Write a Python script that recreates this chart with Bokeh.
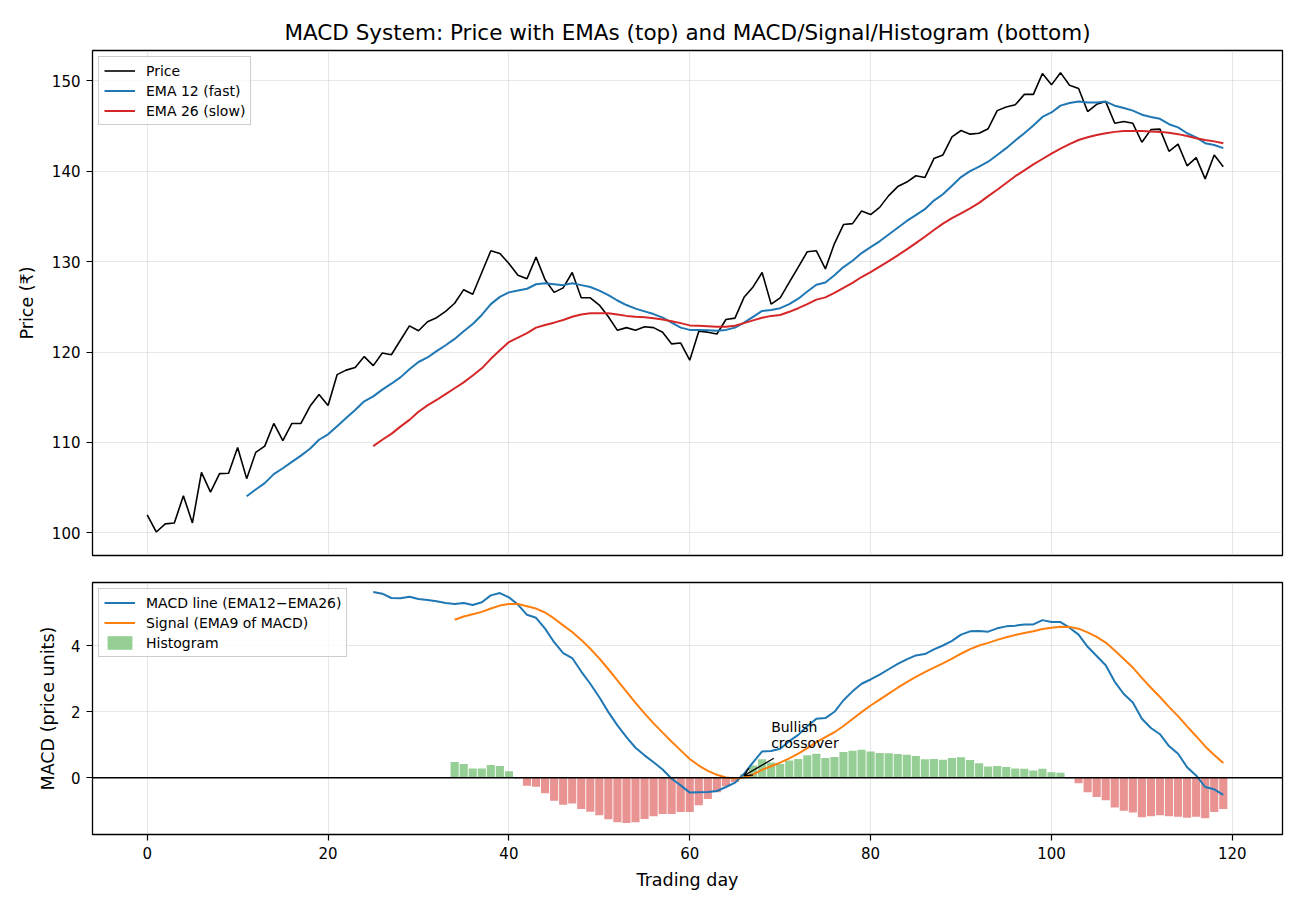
from bokeh.plotting import figure
from bokeh.layouts import column
from bokeh.models import (Range1d, FixedTicker, Span, Label, Arrow, OpenHead,
                          Legend, LegendItem)
from bokeh.embed import file_html
from bokeh.resources import INLINE

FONT = "DejaVu Sans"

# ---------------- data ----------------
days = list(range(120))

price = [102.0, 100.1, 101.0, 101.1, 104.1, 101.1, 106.7, 104.5, 106.55, 106.6,
         109.45, 106.0, 108.9, 109.6, 112.1, 110.2, 112.1, 112.1, 114.0, 115.3,
         114.1, 117.5, 118.0, 118.3, 119.5, 118.5, 119.9, 119.7, 121.3, 122.9,
         122.35, 123.35, 123.8, 124.5, 125.4, 126.9, 126.4, 128.8, 131.2, 130.9,
         129.8, 128.5, 128.1, 130.5, 128.0, 126.6, 127.1, 128.8, 126.0, 126.0,
         125.2, 123.9, 122.4, 122.7, 122.4, 122.8, 122.7, 122.2, 120.9, 121.0,
         119.1, 122.3, 122.2, 122.0, 123.6, 123.75, 126.05, 127.2, 128.8, 125.3,
         126.0, 127.7, 129.4, 131.1, 131.2, 129.2, 132.0, 134.1, 134.2, 135.6,
         135.2, 136.0, 137.3, 138.3, 138.8, 139.5, 139.3, 141.4, 141.8, 143.8,
         144.5, 144.1, 144.2, 144.7, 146.7, 147.1, 147.35, 148.5, 148.5, 150.8,
         149.55, 150.9, 149.5, 149.15, 146.6, 147.4, 147.7, 145.3, 145.5, 145.3,
         143.2, 144.6, 144.65, 142.2, 143.0, 140.6, 141.5, 139.15, 141.8, 140.5]

ema12_start = 11
ema12 = [104.05, 104.8, 105.5, 106.5, 107.15, 107.85, 108.55, 109.3, 110.3,
         110.9, 111.8, 112.7, 113.6, 114.55, 115.1, 115.85, 116.5, 117.2, 118.1,
         118.9, 119.4, 120.1, 120.75, 121.45, 122.3, 123.1, 124.1, 125.3, 126.1,
         126.6, 126.8, 127.0, 127.5, 127.6, 127.5, 127.4, 127.6, 127.4, 127.2,
         126.8, 126.3, 125.7, 125.2, 124.8, 124.5, 124.2, 123.8, 123.25, 122.7,
         122.45, 122.45, 122.4, 122.35, 122.45, 122.7, 123.25, 123.9, 124.55,
         124.65, 124.85, 125.3, 125.9, 126.7, 127.45, 127.7, 128.5, 129.4, 130.1,
         130.95, 131.6, 132.25, 133.0, 133.75, 134.5, 135.15, 135.8, 136.75,
         137.45, 138.4, 139.35, 140.0, 140.5, 141.05, 141.8, 142.55, 143.4, 144.2,
         145.05, 146.0, 146.5, 147.25, 147.55, 147.7, 147.6, 147.6, 147.7, 147.25,
         147.0, 146.7, 146.25, 146.0, 145.8, 145.2, 144.85, 144.2, 143.75, 143.1,
         142.9, 142.55]

ema26_start = 25
ema26 = [109.6, 110.3, 110.95, 111.75, 112.5, 113.4, 114.1, 114.7, 115.35,
         116.0, 116.65, 117.4, 118.2, 119.25, 120.2, 121.1, 121.6, 122.1, 122.7,
         123.0, 123.25, 123.55, 123.9, 124.15, 124.3, 124.3, 124.3, 124.15, 124.0,
         123.9, 123.85, 123.75, 123.6, 123.4, 123.2, 122.95, 122.9, 122.85, 122.8,
         122.8, 122.9, 123.2, 123.5, 123.8, 124.0, 124.1, 124.45, 124.85, 125.3,
         125.8, 126.05, 126.55, 127.1, 127.65, 128.3, 128.85, 129.45, 130.05,
         130.7, 131.35, 132.05, 132.75, 133.5, 134.2, 134.8, 135.35, 135.9, 136.5,
         137.25, 137.95, 138.7, 139.45, 140.1, 140.75, 141.35, 141.95, 142.5,
         143.0, 143.45, 143.75, 144.0, 144.2, 144.35, 144.45, 144.45, 144.45,
         144.4, 144.35, 144.25, 144.1, 143.9, 143.65, 143.45, 143.3, 143.1]

macd_start = 25
macd = [5.63, 5.58, 5.45, 5.44, 5.49, 5.42, 5.39, 5.35, 5.30, 5.27, 5.30, 5.24,
        5.32, 5.53, 5.60, 5.47, 5.25, 4.94, 4.85, 4.52, 4.11, 3.78, 3.63, 3.22,
        2.85, 2.44, 1.99, 1.59, 1.23, 0.91, 0.68, 0.47, 0.25, -0.03, -0.23,
        -0.45, -0.44, -0.43, -0.40, -0.28, -0.15, 0.12, 0.47, 0.80, 0.81, 0.88,
        1.11, 1.30, 1.56, 1.79, 1.81, 2.00, 2.35, 2.62, 2.85, 2.98, 3.13, 3.29,
        3.45, 3.59, 3.71, 3.75, 3.89, 4.01, 4.15, 4.34, 4.44, 4.45, 4.43, 4.53,
        4.59, 4.61, 4.65, 4.65, 4.78, 4.72, 4.72, 4.55, 4.34, 3.97, 3.69, 3.41,
        2.91, 2.54, 2.28, 1.79, 1.51, 1.32, 0.96, 0.73, 0.32, 0.07, -0.28, -0.35,
        -0.52]

signal_start = 34
signal = [4.79, 4.89, 4.96, 5.03, 5.13, 5.22, 5.27, 5.27, 5.20, 5.13, 5.01,
          4.83, 4.62, 4.42, 4.18, 3.91, 3.62, 3.29, 2.95, 2.61, 2.27, 1.95, 1.65,
          1.37, 1.09, 0.83, 0.57, 0.37, 0.21, 0.09, 0.01, -0.02, 0.01, 0.10, 0.24,
          0.35, 0.46, 0.59, 0.73, 0.90, 1.08, 1.23, 1.38, 1.57, 1.78, 1.99, 2.19,
          2.37, 2.55, 2.73, 2.90, 3.06, 3.20, 3.34, 3.47, 3.61, 3.76, 3.90, 4.01,
          4.09, 4.18, 4.26, 4.33, 4.39, 4.44, 4.51, 4.55, 4.58, 4.57, 4.52, 4.41,
          4.27, 4.10, 3.86, 3.60, 3.34, 3.03, 2.73, 2.45, 2.15, 1.87, 1.56, 1.26,
          0.95, 0.69, 0.45]

hist_start = 34
hist = [0.48, 0.42, 0.28, 0.28, 0.39, 0.36, 0.20, -0.02, -0.24, -0.27, -0.47,
        -0.70, -0.82, -0.78, -0.95, -1.03, -1.14, -1.26, -1.35, -1.37, -1.35,
        -1.25, -1.17, -1.10, -1.10, -1.04, -1.04, -0.83, -0.64, -0.44, -0.26,
        -0.13, 0.11, 0.37, 0.56, 0.46, 0.42, 0.52, 0.57, 0.68, 0.73, 0.60, 0.63,
        0.78, 0.82, 0.85, 0.80, 0.75, 0.74, 0.72, 0.70, 0.66, 0.56, 0.57, 0.55,
        0.60, 0.62, 0.54, 0.44, 0.34, 0.36, 0.33, 0.28, 0.27, 0.22, 0.27, 0.17,
        0.15, -0.02, -0.17, -0.44, -0.58, -0.68, -0.90, -1.00, -1.05, -1.20,
        -1.17, -1.14, -1.17, -1.18, -1.21, -1.18, -1.23, -1.04, -0.95]

x_ticks = [0, 20, 40, 60, 80, 100, 120]
price_ticks = [100, 110, 120, 130, 140, 150]
macd_ticks = [0, 2, 4]

title_text = "MACD System: Price with EMAs (top) and MACD/Signal/Histogram (bottom)"

C_BLUE = "#1f77b4"
C_ORANGE = "#ff7f0e"
C_RED = "#d62728"
C_GREEN = "#2ca02c"

# ---------------- helpers ----------------
x_range = Range1d(-6.05, 125.55)


def style(p, yticks):
    p.outline_line_color = "black"
    p.outline_line_width = 1.3
    p.outline_line_alpha = 1.0
    p.background_fill_color = "white"
    p.border_fill_color = "white"
    for g in (p.xgrid, p.ygrid):
        g.grid_line_color = "#b0b0b0"
        g.grid_line_alpha = 0.3
        g.grid_line_width = 1.1
    p.xgrid.ticker = FixedTicker(ticks=x_ticks)
    p.yaxis.ticker = FixedTicker(ticks=yticks)
    for ax in p.axis:
        ax.axis_line_color = None
        ax.major_tick_line_color = "black"
        ax.major_tick_line_width = 1.2
        ax.major_tick_out = 6
        ax.major_tick_in = 0
        ax.minor_tick_line_color = None
        ax.major_label_text_font = FONT
        ax.major_label_text_font_size = "15px"
        ax.major_label_text_color = "black"
        ax.major_label_standoff = 6
        ax.axis_label_text_font = FONT
        ax.axis_label_text_font_size = "17.5px"
        ax.axis_label_text_font_style = "normal"
        ax.axis_label_text_color = "black"


def style_legend(lg):
    lg.location = "top_left"
    lg.margin = 6
    lg.padding = 5
    lg.spacing = 3
    lg.glyph_width = 31
    lg.glyph_height = 17
    lg.label_height = 17
    lg.label_standoff = 11
    lg.label_text_font = FONT
    lg.label_text_font_size = "14px"
    lg.label_text_color = "black"
    lg.border_line_color = "#cccccc"
    lg.border_line_alpha = 1.0
    lg.border_line_width = 1
    lg.background_fill_color = "white"
    lg.background_fill_alpha = 0.8


# ---------------- top panel ----------------
p1 = figure(width=1300, height=569, x_range=x_range, y_range=Range1d(97.5, 153.35),
            output_backend="svg", toolbar_location=None, x_axis_location=None,
            min_border_left=92, min_border_right=18, min_border_top=50,
            min_border_bottom=14)
style(p1, price_ticks)
p1.yaxis.axis_label = "Price (₹)"
p1.yaxis.axis_label_standoff = 12

p1.title.text = title_text
p1.title.align = "center"
p1.title.text_font = FONT
p1.title.text_font_size = "21.5px"
p1.title.text_font_style = "normal"
p1.title.text_color = "black"
p1.title.standoff = 12

r_price = p1.line(days, price, line_color="black", line_width=1.6)
r_e12 = p1.line(days[ema12_start:ema12_start + len(ema12)], ema12,
                line_color=C_BLUE, line_width=2.0)
r_e26 = p1.line(days[ema26_start:ema26_start + len(ema26)], ema26,
                line_color=C_RED, line_width=2.0)

lg1 = Legend(items=[LegendItem(label="Price", renderers=[r_price]),
                    LegendItem(label="EMA 12 (fast)", renderers=[r_e12]),
                    LegendItem(label="EMA 26 (slow)", renderers=[r_e26])])
style_legend(lg1)
p1.add_layout(lg1)

# ---------------- bottom panel ----------------
p2 = figure(width=1300, height=341, x_range=x_range, y_range=Range1d(-1.72, 5.92),
            output_backend="svg", toolbar_location=None,
            min_border_left=92, min_border_right=18, min_border_top=13,
            min_border_bottom=76)
style(p2, macd_ticks)
p2.xaxis.ticker = FixedTicker(ticks=x_ticks)
p2.xaxis.axis_label = "Trading day"
p2.xaxis.axis_label_standoff = 8
p2.yaxis.axis_label = "MACD (price units)"
p2.yaxis.axis_label_standoff = 10

h_days = days[hist_start:hist_start + len(hist)]
pos_x = [d for d, h in zip(h_days, hist) if h >= 0]
pos_h = [h for h in hist if h >= 0]
neg_x = [d for d, h in zip(h_days, hist) if h < 0]
neg_h = [h for h in hist if h < 0]

r_pos = p2.vbar(x=pos_x, top=pos_h, bottom=0, width=0.9, fill_color=C_GREEN,
                fill_alpha=0.5, line_color=None)
p2.vbar(x=neg_x, top=neg_h, bottom=0, width=0.9, fill_color=C_RED,
        fill_alpha=0.5, line_color=None)

m_days = days[macd_start:macd_start + len(macd)]
s_days = days[signal_start:signal_start + len(signal)]
r_macd = p2.line(m_days, macd, line_color=C_BLUE, line_width=2.0)
r_sig = p2.line(s_days, signal, line_color=C_ORANGE, line_width=2.0)

p2.add_layout(Span(location=0, dimension="width", line_color="black",
                   line_width=1.3))

# bullish crossover: first day where MACD rises above the signal
macd_map = dict(zip(m_days, macd))
sig_map = dict(zip(s_days, signal))
cross = None
for d in s_days[1:]:
    if macd_map[d - 1] <= sig_map[d - 1] and macd_map[d] > sig_map[d]:
        cross = d
        break
cy = (macd_map[cross] + sig_map[cross]) / 2.0
ty = macd_map[cross] + 0.7
p2.add_layout(Label(x=cross + 3, y=ty, text="crossover", text_font=FONT,
                    text_font_size="14px", text_color="black",
                    text_baseline="bottom", text_align="left"))
p2.add_layout(Label(x=cross + 3, y=ty, y_offset=16, text="Bullish", text_font=FONT,
                    text_font_size="14px", text_color="black",
                    text_baseline="bottom", text_align="left"))
p2.add_layout(Arrow(x_start=cross + 3.3, y_start=ty - 0.23, x_end=cross, y_end=cy,
                    line_color="black", line_width=1.3,
                    end=OpenHead(size=8, line_color="black", line_width=1.3)))

lg2 = Legend(items=[LegendItem(label="MACD line (EMA12\u2212EMA26)", renderers=[r_macd]),
                    LegendItem(label="Signal (EMA9 of MACD)", renderers=[r_sig]),
                    LegendItem(label="Histogram", renderers=[r_pos])])
style_legend(lg2)
p2.add_layout(lg2)

layout = column(p1, p2, spacing=0)
open("out.html", "w").write(file_html(layout, INLINE))
